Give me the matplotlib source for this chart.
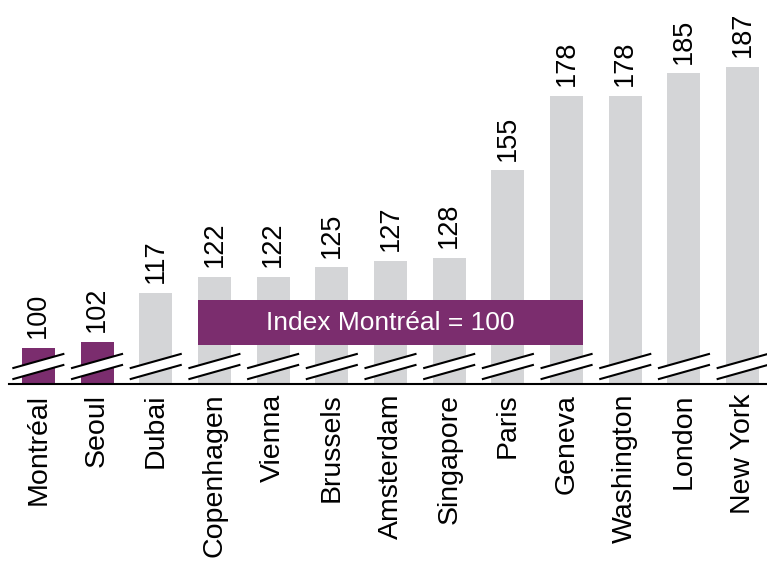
import matplotlib.pyplot as plt
from matplotlib.patches import Polygon, Rectangle

plt.rcParams['font.family'] = ['Liberation Sans', 'DejaVu Sans']

# Data
cities = ['Montréal', 'Seoul', 'Dubai', 'Copenhagen', 'Vienna', 'Brussels', 'Amsterdam',
          'Singapore', 'Paris', 'Geneva', 'Washington', 'London', 'New York']
index_values = [100, 102, 117, 122, 122, 125, 127, 128, 155, 178, 178, 185, 187]
highlight = ['Montréal', 'Seoul']

purple = '#7b2d6e'
grey = '#d4d5d7'

fig = plt.figure(figsize=(7.67, 5.62), dpi=100)
# axes placed in pixels: baseline at y=384 from top, first bar centre at x=38.5
ax = fig.add_axes([9 / 767, 178 / 562, 763 / 767, 384 / 562])

y0 = 88.85
ax.set_xlim(-0.5, len(cities) - 0.5)
ax.set_ylim(y0, y0 + 384 / 3.23)

x = list(range(len(cities)))
colors = [purple if c in highlight else grey for c in cities]
ax.bar(x, index_values, width=0.562, color=colors, zorder=1)

# value labels
for xi, v in zip(x, index_values):
    ax.annotate(str(v), (xi, v), xytext=(0, 7), textcoords='offset points',
                rotation=90, ha='center', va='bottom', fontsize=19.5)

# axis break marks on every bar
hw = 0.426
for xi in x:
    lo = [(xi - hw, y0 + 5 / 3.23), (xi + hw, y0 + 19 / 3.23)]
    up = [(xi - hw, y0 + 16 / 3.23), (xi + hw, y0 + 30 / 3.23)]
    ax.add_patch(Polygon(lo + up[::-1], closed=True, facecolor='white',
                         edgecolor='none', zorder=2, clip_on=False))
    ax.plot(*zip(*lo), color='black', lw=1.5, zorder=3, clip_on=False)
    ax.plot(*zip(*up), color='black', lw=1.5, zorder=3, clip_on=False)

# index box
box_y0 = y0 + 39 / 3.23
box_y1 = y0 + 84 / 3.23
ax.add_patch(Rectangle((3 - 0.281, box_y0), 6 + 0.562, box_y1 - box_y0,
                       facecolor=purple, edgecolor='none', zorder=4))
ax.text(6, (box_y0 + box_y1) / 2, 'Index Montréal = 100', color='white',
        ha='center', va='center', fontsize=19, zorder=5)

ax.set_xticks(x)
ax.set_xticklabels(cities, rotation=90, fontsize=20.5)
ax.tick_params(axis='x', length=0, pad=7)
ax.set_yticks([])
for s in ['top', 'right', 'left']:
    ax.spines[s].set_visible(False)
ax.spines['bottom'].set_linewidth(1.5)
ax.spines['bottom'].set_zorder(6)

fig.savefig('out.png', dpi=100)
